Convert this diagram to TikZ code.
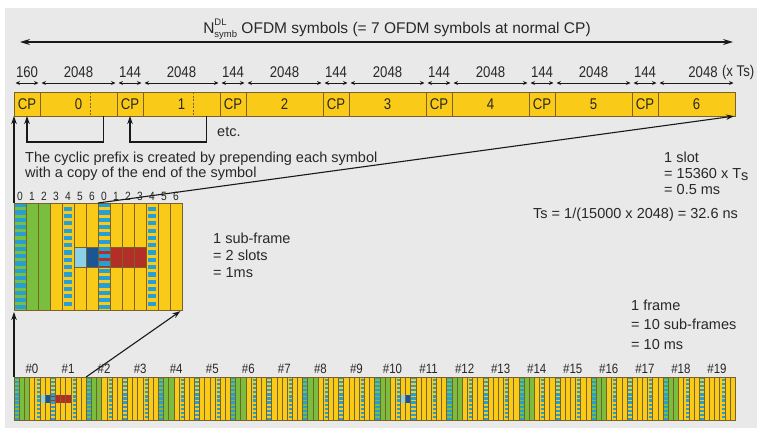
\documentclass[tikz,border=0pt]{standalone}
\usepackage{fontspec}
\setmainfont{Liberation Sans}
\newfontfamily\condfont{Liberation Sans}[FakeStretch=0.85]
\usetikzlibrary{arrows.meta,positioning}

\definecolor{panelgray}{RGB}{233,233,233}
\definecolor{symyellow}{RGB}{250,202,24}
\definecolor{ctrlgreen}{RGB}{122,190,62}
\definecolor{refblue}{RGB}{38,158,214}
\definecolor{syncpale}{RGB}{140,210,230}
\definecolor{syncdark}{RGB}{26,86,150}
\definecolor{pbchred}{RGB}{180,46,40}
\definecolor{gridline}{RGB}{120,98,40}
\definecolor{inktext}{RGB}{40,40,40}
\definecolor{inkline}{RGB}{25,25,25}

\begin{document}
\begin{tikzpicture}[
        x=1pt, y=-1pt,
        cpbox/.style={rectangle, draw=gridline, fill=symyellow, line width=0.8pt, minimum width=26pt, minimum height=24pt, inner sep=0pt, outer sep=0pt, text=inktext, font=\condfont\fontsize{15.5}{15.5}\selectfont},
        symbox/.style={cpbox, minimum width=77pt},
        dimlabel/.style={inner sep=0pt, text=inktext, font=\condfont\fontsize{15.5}{15.5}\selectfont},
        slotlabel/.style={inner sep=0pt, text=inktext, font=\condfont\fontsize{13.5}{13.5}\selectfont},
        symidx/.style={inner sep=0pt, text=inktext, font=\condfont\fontsize{12}{12}\selectfont},
        note/.style={inner sep=0pt, align=left, text=inktext, font=\fontsize{14.5}{16}\selectfont},
        dim/.style={{Stealth[length=4.5pt,width=4pt]}-{Stealth[length=4.5pt,width=4pt]}, line width=0.9pt, draw=inkline},
        spanarrow/.style={{Stealth[length=10pt,width=6pt]}-{Stealth[length=10pt,width=6pt]}, line width=1.2pt, draw=inkline},
        arr/.style={-{Stealth[length=8pt,width=5.5pt]}, line width=1.1pt, draw=inkline},
        copyline/.style={draw=gridline, line width=0.8pt, dash pattern=on 2pt off 1.5pt}
    ]

    % background panel
    \fill[white] (0,0) rectangle (770,440);
    \fill[panelgray] (5,8) rectangle (757,428);
    \useasboundingbox (0,0) rectangle (770,440);

    % ==========================================
    % 1. Slot: 7 OFDM symbols with CP
    % ==========================================
    \node[note, font=\fontsize{15.5}{16}\selectfont] (title) at (397,29) {N\rlap{\raisebox{1.0ex}{\fontsize{9.5}{9.5}\selectfont DL}}\raisebox{-0.45ex}{\fontsize{9.5}{9.5}\selectfont symb} OFDM symbols (= 7 OFDM symbols at normal CP)};
    \coordinate (spanL) at (20,42);
    \coordinate (spanR) at (733,42);
    \draw[spanarrow] (spanL) -- (spanR);

    \foreach \k/\cpw in {0/160,1/144,2/144,3/144,4/144,5/144,6/144} {
        \node[cpbox] (cp\k) at ({27+103*\k},104) {CP};
        \node[symbox] (sym\k) at ({78.5+103*\k},104) {\k};
        \node[dimlabel] (cpw\k) at ({27+103*\k},72) {\cpw};
        \draw[dim] ([shift={(1.5,-9)}]cp\k.north west) -- ([shift={(-1.5,-9)}]cp\k.north east);
        \draw[dim] ([shift={(1.5,-9)}]sym\k.north west) -- ([shift={(-1.5,-9)}]sym\k.north east);
    }
    \foreach \k in {0,...,5} {
        \node[dimlabel] (symw\k) at ({78.5+103*\k},72) {2048};
    }
    \node[dimlabel] (symw6) at (703,72) {2048};
    \node[dimlabel, right=4pt of symw6] (tsunit) {(x Ts)};

    % copy of the symbol end -> CP
    \draw[copyline] ([xshift=-27pt]sym0.north east) -- ([xshift=-27pt]sym0.south east);
    \draw[copyline] ([xshift=-27pt]sym1.north east) -- ([xshift=-27pt]sym1.south east);
    \coordinate (copy0) at ([xshift=-13.5pt]sym0.south east);
    \coordinate (copy1) at ([xshift=-13.5pt]sym1.south east);
    \draw[arr] (copy0) -- ++(0,26) -| (cp0.south);
    \draw[arr] (copy1) -- ++(0,26) -| (cp1.south);
    \node[note, anchor=base west] (etc) at (217,136) {etc.};

    \node[note, anchor=north west] (cptext) at (25,151.5) {The cyclic prefix is created by prepending each symbol\\[-1pt]with a copy of the end of the symbol};
    \node[note, anchor=north west] (slottext) at (664,151.5) {1 slot\\= 15360 x T\raisebox{-0.35ex}{s}\\= 0.5 ms};
    \node[note, anchor=base west] (tsdef) at (533,218) {Ts = 1/(15000 x 2048) = 32.6 ns};

    % ==========================================
    % 2. Sub-frame grid (2 slots x 7 symbols)
    % ==========================================
    \foreach \c in {0,...,13} {
        \pgfmathtruncatemacro{\slotno}{\c/7}
        \pgfmathtruncatemacro{\symno}{mod(\c,7)}
        \def\basecol{symyellow}
        \ifnum\slotno=0 \ifnum\symno<3 \def\basecol{ctrlgreen}\fi\fi
        \fill[\basecol] ({14+12*\c},203) rectangle ++(12,107);
        \node[symidx] (idx\c) at ({20+12*\c},196) {\symno};
    }
    \fill[syncpale] (74,247) rectangle (86,267);
    \fill[syncdark] (86,247) rectangle (98,267);
    \fill[pbchred] (98,247) rectangle (146,267);
    \draw[gridline, line width=0.5pt] (74,247) rectangle (146,267);
    % reference signal stripes
    \foreach \c in {0,7} {
        \foreach \i in {0,...,14} {
            \fill[refblue] ({14+12*\c},{203+7.3*\i}) rectangle ++(12,4.2);
        }
    }
    \foreach \c in {4,11} {
        \foreach \i in {0,...,13} {
            \fill[refblue] ({15.8+12*\c},{206.65+7.3*\i}) rectangle ++(8.4,4.2);
        }
    }
    \foreach \c in {1,...,13} {
        \draw[gridline, line width=0.6pt] ({14+12*\c},203) -- ++(0,107);
    }
    \node[draw=gridline, line width=0.8pt, minimum width=168pt, minimum height=107pt, inner sep=0pt, outer sep=0pt] (sfgrid) at (98,256.5) {};

    \node[note, anchor=north west] (sftext) at (213,232.5) {1 sub-frame\\[1pt]= 2 slots\\[1pt]= 1ms};

    % ==========================================
    % 3. Frame: 20 slots
    % ==========================================
    \foreach \slotno in {0,...,19} {
        \node[slotlabel] (slotlbl\slotno) at ({32+36.05*\slotno},369) {\#\slotno};
        \foreach \symno in {0,...,6} {
            \pgfmathsetmacro{\xo}{14+36.05*\slotno+5.15*\symno}
            \def\basecol{symyellow}
            \ifodd\slotno\else\ifnum\symno<3 \def\basecol{ctrlgreen}\fi\fi
            \fill[\basecol] (\xo,377) rectangle ++(5.15,43);
        }
    }
    \fill[syncpale] (39.75,395) rectangle ++(5.15,8);
    \fill[syncdark] (44.9,395) rectangle ++(5.15,8);
    \fill[syncpale] (400.25,395) rectangle ++(5.15,8);
    \fill[syncdark] (405.4,395) rectangle ++(5.15,8);
    \fill[pbchred] (50.05,395) rectangle ++(20.6,8);
    \foreach \slotno in {0,...,19} {
        \pgfmathsetmacro{\xa}{14+36.05*\slotno}
        \foreach \i in {0,...,10} {
            \fill[refblue] (\xa,{377+4.08*\i}) rectangle ++(5.15,2.2);
        }
        \foreach \i in {0,...,9} {
            \fill[refblue] ({\xa+21.6+1},{379.04+4.08*\i}) rectangle ++(3.15,2.2);
        }
    }
    \foreach \n in {1,...,139} {
        \draw[gridline, line width=0.3pt] ({14+5.15*\n},377) -- ++(0,43);
    }
    \node[draw=gridline, line width=0.8pt, minimum width=721pt, minimum height=43pt, inner sep=0pt, outer sep=0pt] (framestrip) at (374.5,398.5) {};

    \node[note, anchor=north west] (frametext) at (631,299.5) {1 frame\\[3.5pt]= 10 sub-frames\\[3.5pt]= 10 ms};

    % ==========================================
    % 4. Zoom arrows
    % ==========================================
    \coordinate (slot0end) at ([xshift=84pt]sfgrid.north west);
    \coordinate (slot1end) at ([xshift=72.1pt]framestrip.north west);
    \draw[arr] (sfgrid.north west) -- (cp0.south west);
    \draw[arr, shorten >=1pt] (slot0end) -- (sym6.south east);
    \draw[arr, shorten >=2pt] (framestrip.north west) -- (sfgrid.south west);
    \draw[arr, shorten >=2pt] (slot1end) -- (sfgrid.south east);

\end{tikzpicture}
\end{document}
